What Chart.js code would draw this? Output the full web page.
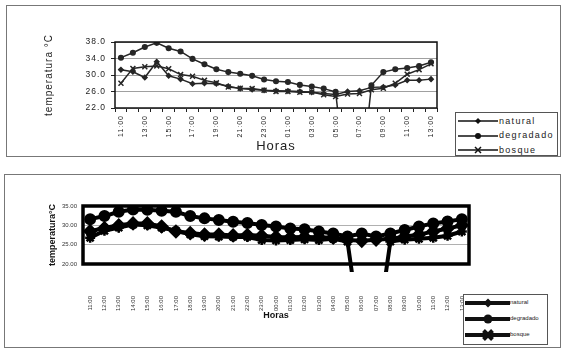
<!DOCTYPE html>
<html>
<head>
  <meta charset="utf-8">
  <title>Temperatura por horas</title>
  <script src="https://cdn.jsdelivr.net/npm/chart.js"></script>
  <style>
    body { margin: 0; width: 562px; height: 351px; background: #fff; position: relative; overflow: hidden;
           font-family: "Liberation Sans", Arial, sans-serif; }
    .frame { position: absolute; border: 1px solid #777; box-sizing: border-box; }
    canvas { position: absolute; left: 0; }
    .legend { position: absolute; border: 1px solid #555; background: #fff; box-sizing: border-box; }
    .legend .row { position: absolute; left: 0; white-space: nowrap; }
    .legend svg { position: absolute; left: 0; top: 0; }
    .legend span { position: absolute; color: #222; }
  </style>
</head>
<body>
  <div class="frame" style="left:6px;top:5px;width:555px;height:152px"></div>
  <div class="frame" style="left:4px;top:174px;width:557px;height:174px"></div>
  <canvas id="chartA" width="562" height="165" style="top:0"></canvas>
  <canvas id="chartB" width="562" height="181" style="top:170px"></canvas>
  <div class="legend" id="legendA" style="left:455px;top:112px;width:103px;height:44px"></div>
  <div class="legend" id="legendB" style="left:463px;top:294px;width:85px;height:51px"></div>

  <script>
// horas de medición (11:00 a 13:00 del día siguiente)
const horas = ['11:00','12:00','13:00','14:00','15:00','16:00','17:00','18:00','19:00','20:00','21:00','22:00','23:00',
  '00:00','01:00','02:00','03:00','04:00','05:00','06:00','07:00','08:00','09:00','10:00','11:00','12:00','13:00'];
const series = ['natural', 'degradado', 'bosque'];

// gráfico de arriba
const naturalA   = [31.3, 30.8, 29.4, 33.2, 29.8, 29.0, 27.9, 28.0, 27.9, 27.3, 26.7, 26.5, 26.3, 26.2,
                    26.1, 26.0, 25.8, 25.5, 25.3, 26.0, 26.2, 27.0, 27.1, 27.6, 28.7, 28.7, 29.0];
const degradadoA = [34.2, 35.4, 36.8, 37.8, 36.5, 35.7, 33.9, 32.6, 31.4, 30.7, 30.3, 29.8, 28.9, 28.5,
                    28.3, 27.6, 27.2, 26.7, 25.9, 0, 0, 27.5, 30.7, 31.4, 31.7, 32.2, 33.1];
const bosqueA    = [28.0, 31.6, 32.0, 32.2, 31.5, 30.1, 29.7, 28.7, 28.1, 27.1, 26.8, 26.7, 26.3, 26.0,
                    26.0, 25.8, 25.9, 25.2, 24.8, 25.4, 25.5, 26.4, 26.8, 28.0, 30.2, 31.3, 32.7];
const yTicksA = [22, 26, 30, 34, 38];

// gráfico de abajo
const naturalB   = [28.5, 29.3, 30.0, 30.5, 30.5, 29.7, 28.4, 28.0, 27.6, 27.6, 27.4, 27.5, 27.3, 27.0,
                    26.9, 27.0, 26.9, 26.8, 26.2, 26.0, 26.3, 26.5, 27.1, 27.6, 28.4, 29.2, 30.0];
const degradadoB = [31.6, 32.4, 33.5, 34.1, 34.0, 33.8, 33.5, 32.4, 31.8, 31.4, 30.9, 30.6, 30.1, 29.7,
                    29.2, 29.0, 28.4, 27.9, 27.1, 27.9, 27.1, 27.9, 28.8, 29.7, 30.5, 31.0, 31.6];
const bosqueB    = [26.8, 28.6, 29.4, 30.2, 30.0, 29.4, 28.6, 27.7, 27.2, 27.1, 27.0, 27.0, 26.2, 26.1,
                    26.2, 26.4, 26.2, 26.5, 25.8, 0, 0, 25.8, 26.3, 26.5, 26.8, 27.3, 28.4];
const yTicksB = [20, 25, 30, 35];

// marco negro alrededor del área de trazado
const plotBox = {
  id: 'plotBox',
  afterDatasetsDraw(chart, args, opts) {
    const { ctx, chartArea: a } = chart;
    ctx.save();
    ctx.strokeStyle = opts.color;
    ctx.lineWidth = opts.width;
    ctx.strokeRect(a.left, a.top, a.right - a.left, a.bottom - a.top);
    ctx.restore();
  }
};

// letras espaciadas como en el original escaneado
const spacing = {
  id: 'spacing',
  beforeLayout(c, args, opts) { c.ctx.letterSpacing = opts.value; },
  beforeDraw(c, args, opts) { c.ctx.letterSpacing = opts.value; }
};

const ink = '#262626';

new Chart(document.getElementById('chartA'), {
  type: 'line',
  data: {
    labels: horas,
    datasets: [
      { label: series[0], data: naturalA, borderColor: ink, backgroundColor: ink, borderWidth: 1.5,
        pointStyle: 'rectRot', pointRadius: 2.2 },
      { label: series[1], data: degradadoA, borderColor: ink, backgroundColor: ink, borderWidth: 1.5,
        pointStyle: 'circle', pointRadius: 2.3 },
      { label: series[2], data: bosqueA, borderColor: ink, backgroundColor: ink, borderWidth: 1.5,
        pointStyle: 'crossRot', pointRadius: 3.5, pointBorderWidth: 1.5 }
    ]
  },
  options: {
    responsive: false,
    animation: false,
    layout: { padding: { left: 40, right: 125, top: 42, bottom: 10 } },
    plugins: {
      legend: { display: false },
      tooltip: { enabled: false },
      plotBox: { color: '#111', width: 1.5 },
      spacing: { value: '1px' }
    },
    scales: {
      x: {
        offset: true,
        afterFit: s => { s.height = 47; },
        grid: { offset: true, drawOnChartArea: false, drawTicks: true, tickLength: 4, tickColor: '#222' },
        border: { display: false },
        ticks: {
          autoSkip: false, minRotation: 90, maxRotation: 90, padding: 3, color: '#222',
          font: { family: 'Liberation Sans', size: 7 },
          callback: function (v, i) { return i % 2 === 0 ? this.getLabelForValue(v) : ''; }
        },
        title: { display: true, text: 'Horas', color: '#222', padding: { top: 0, bottom: 1 },
                 font: { family: 'Liberation Sans', size: 13 } }
      },
      y: {
        min: yTicksA[0], max: yTicksA[yTicksA.length - 1],
        afterFit: s => { s.width = 75; },
        grid: { color: '#a0a0a0', lineWidth: 1, drawTicks: true, tickLength: 4, tickColor: '#222' },
        border: { display: false },
        ticks: { stepSize: 4, padding: 5, color: '#222', font: { family: 'Liberation Sans', size: 8.5 },
                 callback: v => v.toFixed(1) },
        title: { display: true, text: 'temperatura °C', color: '#222', padding: { top: 3, bottom: 0 },
                 font: { family: 'Liberation Sans', size: 10 } }
      }
    }
  },
  plugins: [plotBox, spacing]
});

new Chart(document.getElementById('chartB'), {
  type: 'line',
  data: {
    labels: horas,
    datasets: [
      { label: series[0], data: naturalB, borderColor: '#000', backgroundColor: '#000', borderWidth: 4,
        pointStyle: 'rectRot', pointRadius: 4.5 },
      { label: series[1], data: degradadoB, borderColor: '#000', backgroundColor: '#000', borderWidth: 4,
        pointStyle: 'circle', pointRadius: 4 },
      { label: series[2], data: bosqueB, borderColor: '#000', backgroundColor: '#000', borderWidth: 4,
        pointStyle: 'star', pointRadius: 5, pointBorderWidth: 2.5,
        clip: { left: 5, top: 5, right: 5, bottom: 8 } }
    ]
  },
  options: {
    responsive: false,
    animation: false,
    layout: { padding: { left: 45, right: 93, top: 36, bottom: 30 } },
    plugins: {
      legend: { display: false },
      tooltip: { enabled: false },
      plotBox: { color: '#000', width: 3.5 }
    },
    scales: {
      x: {
        offset: true,
        afterFit: s => { s.height = 57; },
        grid: { display: false },
        border: { display: false },
        ticks: { autoSkip: false, minRotation: 90, maxRotation: 90, padding: 24, color: '#333',
                 font: { family: 'Liberation Sans', size: 6 } },
        title: { display: true, text: 'Horas', color: '#111', padding: { top: 0, bottom: 0 },
                 font: { family: 'Liberation Sans', size: 9, weight: 'bold' } }
      },
      y: {
        min: yTicksB[0], max: yTicksB[yTicksB.length - 1],
        afterFit: s => { s.width = 38; },
        grid: { color: '#b0b0b0', lineWidth: 1, drawTicks: false },
        border: { display: false },
        ticks: { stepSize: 5, padding: 6, color: '#333', font: { family: 'Liberation Sans', size: 6 },
                 callback: v => v.toFixed(2) },
        title: { display: true, text: 'temperatura°C', color: '#111', padding: { top: 2, bottom: 0 },
                 font: { family: 'Liberation Sans', size: 9, weight: 'bold' } }
      }
    }
  },
  plugins: [plotBox]
});

// leyendas en HTML
const markers = ['diamond', 'circle', 'cross'];
function markerSvg(type, cx, cy, r, sw) {
  if (type === 'circle') return `<circle cx="${cx}" cy="${cy}" r="${r}" fill="#111"/>`;
  if (type === 'diamond') return `<polygon points="${cx},${cy - r} ${cx + r},${cy} ${cx},${cy + r} ${cx - r},${cy}" fill="#111"/>`;
  return `<path d="M${cx - r} ${cy - r}L${cx + r} ${cy + r}M${cx - r} ${cy + r}L${cx + r} ${cy - r}" stroke="#111" stroke-width="${sw}"/>`;
}
function buildLegend(id, cfg) {
  const box = document.getElementById(id);
  series.forEach((name, i) => {
    const row = document.createElement('div');
    row.className = 'row';
    row.style.top = (cfg.y0 + i * cfg.step - 6) + 'px';
    row.style.width = '100%';
    row.style.height = '12px';
    row.innerHTML =
      `<svg width="${cfg.x1 + 2}" height="12"><line x1="${cfg.x0}" y1="6" x2="${cfg.x1}" y2="6" stroke="#111" stroke-width="${cfg.lw}"/>` +
      markerSvg(markers[i], cfg.mx, 6, cfg.r, cfg.lw) + '</svg>' +
      `<span style="left:${cfg.tx}px;top:${6 - cfg.fs * 0.6}px;font-size:${cfg.fs}px;letter-spacing:${cfg.ls}px">${name}</span>`;
    box.appendChild(row);
  });
}
buildLegend('legendA', { y0: 8, step: 14.5, x0: 2, x1: 42, mx: 22, r: 3, lw: 1.5, tx: 43, fs: 9, ls: 1.3 });
buildLegend('legendB', { y0: 8, step: 16, x0: 1, x1: 46, mx: 24, r: 4.5, lw: 4, tx: 46, fs: 6, ls: 0 });
  </script>
</body>
</html>
